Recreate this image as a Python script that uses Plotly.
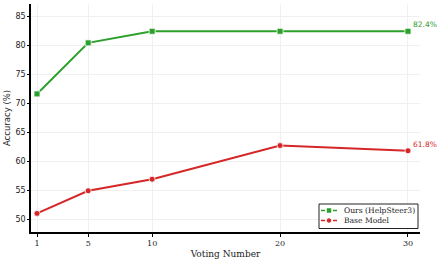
import plotly.graph_objects as go

votes = [1, 5, 10, 20, 30]
ours = [71.6, 80.4, 82.4, 82.4, 82.4]
base = [51.0, 54.9, 56.9, 62.7, 61.8]
y_ticks = [50, 55, 60, 65, 70, 75, 80, 85]
series_names = ["Ours (HelpSteer3)", "Base Model"]

GREEN = "#2ca02c"
RED = "#d62728"
SERIF = "DejaVu Serif"
SANS = "DejaVu Sans"

W, H = 439, 261
ML, MR, MT, MB = 31, 19, 4, 29
PW, PH = W - ML - MR, H - MT - MB

fig = go.Figure()
fig.add_trace(go.Scatter(
    x=votes, y=ours, mode="lines+markers", name=series_names[0],
    line=dict(color=GREEN, width=2),
    marker=dict(symbol="square", size=6, color=GREEN, line=dict(color="white", width=0.8)),
    cliponaxis=False,
))
fig.add_trace(go.Scatter(
    x=votes, y=base, mode="lines+markers", name=series_names[1],
    line=dict(color=RED, width=2),
    marker=dict(symbol="circle", size=6, color=RED, line=dict(color="white", width=0.8)),
    cliponaxis=False,
))

fig.add_annotation(x=votes[-1], y=ours[-1], text=f"{ours[-1]}%", showarrow=False,
                   xanchor="left", yanchor="bottom", xshift=3, yshift=0,
                   font=dict(family=SANS, size=7.5, color=GREEN))
fig.add_annotation(x=votes[-1], y=base[-1], text=f"{base[-1]}%", showarrow=False,
                   xanchor="left", yanchor="bottom", xshift=3, yshift=0,
                   font=dict(family=SANS, size=7.5, color=RED))

# manual compact legend (paper coordinates)
def px_x(p):
    return (p - ML) / PW

def px_y(p):
    return (H - MB - p) / PH

fig.add_shape(type="rect", xref="paper", yref="paper",
              x0=px_x(319), x1=px_x(418), y0=px_y(228.5), y1=px_y(204),
              line=dict(color="#222", width=1), fillcolor="white", layer="above")
rows = [(210.5, GREEN, "square"), (220.5, RED, "circle")]
for (yy, col, sym), name in zip(rows, series_names):
    fig.add_shape(type="line", xref="paper", yref="paper",
                  x0=px_x(321), x1=px_x(337), y0=px_y(yy), y1=px_y(yy),
                  line=dict(color=col, width=1.5, dash="4px,2px"), layer="above")
    kind = "rect" if sym == "square" else "circle"
    fig.add_shape(type=kind, xref="paper", yref="paper",
                  x0=px_x(327), x1=px_x(331), y0=px_y(yy + 2), y1=px_y(yy - 2),
                  line=dict(color=col, width=0.5), fillcolor=col, layer="above")
    fig.add_annotation(xref="paper", yref="paper", x=px_x(342), y=px_y(yy),
                       text=name, showarrow=False, xanchor="left", yanchor="middle",
                       font=dict(family=SERIF, size=7.6, color="#222"))

fig.update_layout(
    width=W, height=H,
    margin=dict(l=ML, r=MR, t=MT, b=MB, autoexpand=False),
    paper_bgcolor="white", plot_bgcolor="white",
    font=dict(family=SERIF, size=8, color="#222"),
    showlegend=False,
    xaxis=dict(
        range=[0.53, 30.94], tickmode="array", tickvals=votes,
        ticktext=[str(v) for v in votes],
        showline=True, linecolor="black", linewidth=1.5,
        ticks="outside", ticklen=3, tickcolor="black",
        tickfont=dict(family=SERIF, size=8),
        showgrid=True, gridcolor="#f0f0f0", gridwidth=1, zeroline=False,
        title=dict(text="Voting Number", font=dict(family=SERIF, size=9), standoff=3),
    ),
    yaxis=dict(
        range=[47.8, 87.1], tickmode="array", tickvals=y_ticks,
        showline=True, linecolor="black", linewidth=1.5,
        ticks="outside", ticklen=2, tickcolor="black",
        tickfont=dict(family=SANS, size=8),
        showgrid=True, gridcolor="#f0f0f0", gridwidth=1, zeroline=False,
        title=dict(text="Accuracy (%)", font=dict(family=SANS, size=8.5), standoff=3),
    ),
)

fig.write_html("out.html", config={"displayModeBar": False},
               post_script="document.body.style.margin='0px';document.body.style.padding='0px';")
